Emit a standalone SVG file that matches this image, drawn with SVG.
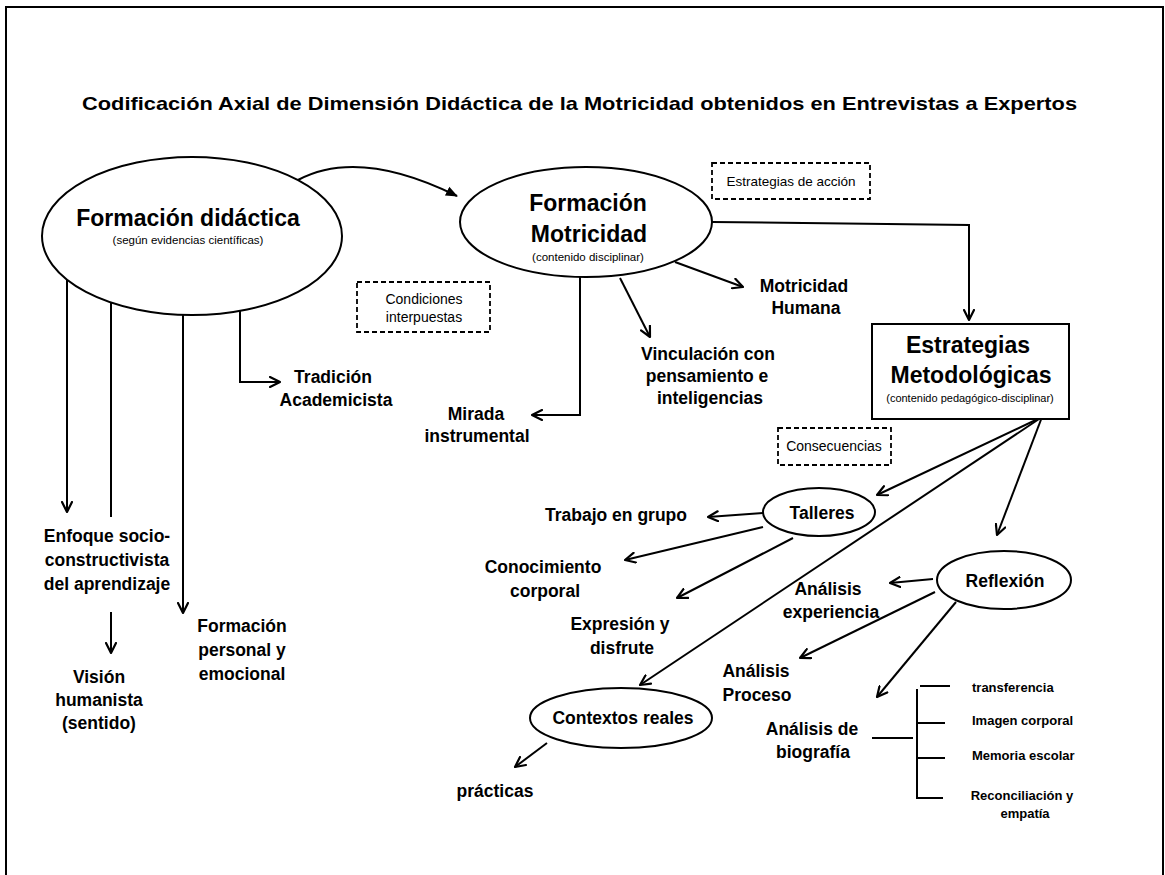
<svg xmlns="http://www.w3.org/2000/svg" width="1165" height="875" viewBox="0 0 1165 875">
<defs>
<marker id="arr" viewBox="0 0 12 12" refX="11" refY="6" markerWidth="12" markerHeight="12" markerUnits="userSpaceOnUse" orient="auto">
<path d="M1,1 L11,6 L1,11" fill="none" stroke="#000" stroke-width="2.2" stroke-linecap="round" stroke-linejoin="round"/>
</marker>
<marker id="arrf" viewBox="0 0 12 12" refX="11" refY="6" markerWidth="12" markerHeight="12" markerUnits="userSpaceOnUse" orient="auto">
<path d="M0,1 L12,6 L0,11 Z" fill="#000"/>
</marker>
</defs>
<style>
text{font-family:"Liberation Sans",Arial,sans-serif;fill:#000}
.t{font-size:19px;font-weight:bold}
.big{font-size:23px;font-weight:bold;text-anchor:middle}
.lbl{font-size:17.5px;font-weight:bold;text-anchor:middle}
.sub{font-size:11.5px;text-anchor:middle}
.note{font-size:14px;text-anchor:middle}
.sm{font-size:13px;font-weight:bold}
.shape{fill:#fff;stroke:#000;stroke-width:2}
.dash{fill:none;stroke:#000;stroke-width:1.8;stroke-dasharray:5,3}
.c{fill:none;stroke:#000;stroke-width:2}
.a{marker-end:url(#arr)}
</style>
<rect x="0" y="0" width="1165" height="875" fill="#fff"/>
<rect x="6" y="7" width="1157" height="890" fill="none" stroke="#000" stroke-width="2"/>
<text class="t" x="82" y="110" textLength="995" lengthAdjust="spacingAndGlyphs">Codificación Axial de Dimensión Didáctica de la Motricidad obtenidos en Entrevistas a Expertos</text>

<g id="connectors">
<path class="c" d="M298,180 C330,163 380,158 457,196" marker-end="url(#arrf)"/>
<path class="c a" d="M67,280 L67,512"/>
<path class="c" d="M111,302 L111,517"/>
<path class="c a" d="M111,612 L111,653"/>
<path class="c a" d="M183,315 L183,613"/>
<path class="c a" d="M240,311 L240,382 L280,382"/>
<path class="c a" d="M580,277 L580,415 L532,415"/>
<path class="c a" d="M620,278 L650,337"/>
<path class="c a" d="M675,262 L743,287"/>
<path class="c a" d="M712,222 L969,225 L969,320"/>
<path class="c a" d="M1042,417 L877,495"/>
<path class="c a" d="M1042,417 L640,685"/>
<path class="c a" d="M1042,417 L997,535"/>
<path class="c a" d="M763,513 L708,517"/>
<path class="c a" d="M763,527 L625,560"/>
<path class="c a" d="M793,538 L677,598"/>
<path class="c a" d="M933,579 L890,583"/>
<path class="c a" d="M935,592 L800,658"/>
<path class="c a" d="M956,602 L877,697"/>
<path class="c a" d="M547,743 L515,767"/>
<path class="c" d="M872,738 L913,738"/>
<path class="c" d="M917,689 L917,798 L943,798"/>
<path class="c" d="M920,686 L950,686"/>
<path class="c" d="M918,723 L945,723"/>
<path class="c" d="M918,758 L945,758"/>
</g>

<g id="formacion-didactica">
<ellipse class="shape" cx="192" cy="236" rx="150" ry="79"/>
<text class="big" x="188" y="226">Formación didáctica</text>
<text class="sub" x="188" y="244">(según evidencias científicas)</text>
</g>

<g id="formacion-motricidad">
<ellipse class="shape" cx="586" cy="222" rx="126" ry="55"/>
<text class="big" x="588" y="211">Formación</text>
<text class="big" x="589" y="242">Motricidad</text>
<text class="sub" x="588" y="261">(contenido disciplinar)</text>
</g>

<g id="estrategias-accion">
<rect class="dash" x="712" y="163" width="158" height="36"/>
<text class="note" x="791" y="186" style="font-size:13.5px">Estrategias de acción</text>
</g>

<g id="condiciones">
<rect class="dash" x="357" y="282" width="133" height="50"/>
<text class="note" x="424" y="304">Condiciones</text>
<text class="note" x="424" y="322">interpuestas</text>
</g>

<g id="estrategias-metodologicas">
<rect class="shape" x="872" y="324" width="197" height="95"/>
<text class="big" x="968" y="353">Estrategias</text>
<text class="big" x="971" y="383">Metodológicas</text>
<text class="sub" x="970" y="402" style="font-size:11px">(contenido pedagógico-disciplinar)</text>
</g>

<g id="consecuencias">
<rect class="dash" x="778" y="428" width="113" height="37"/>
<text class="note" x="834" y="451">Consecuencias</text>
</g>

<g id="tradicion"><text class="lbl" x="333" y="383">Tradición</text><text class="lbl" x="336" y="406">Academicista</text></g>
<g id="enfoque"><text class="lbl" x="107" y="542">Enfoque socio-</text><text class="lbl" x="107" y="566">constructivista</text><text class="lbl" x="107" y="590">del aprendizaje</text></g>
<g id="vision"><text class="lbl" x="99" y="683">Visión</text><text class="lbl" x="99" y="706">humanista</text><text class="lbl" x="99" y="729">(sentido)</text></g>
<g id="formacion-personal"><text class="lbl" x="242" y="632">Formación</text><text class="lbl" x="242" y="656">personal y</text><text class="lbl" x="242" y="680">emocional</text></g>
<g id="mirada"><text class="lbl" x="476" y="420">Mirada</text><text class="lbl" x="477" y="442">instrumental</text></g>
<g id="vinculacion"><text class="lbl" x="708" y="360">Vinculación con</text><text class="lbl" x="707" y="382">pensamiento e</text><text class="lbl" x="710" y="404">inteligencias</text></g>
<g id="motricidad-humana"><text class="lbl" x="804" y="292">Motricidad</text><text class="lbl" x="806" y="314">Humana</text></g>

<g id="talleres">
<ellipse class="shape" cx="819" cy="512" rx="56" ry="24"/>
<text class="lbl" x="822" y="519">Talleres</text>
</g>
<g id="trabajo"><text class="lbl" x="616" y="521">Trabajo en grupo</text></g>
<g id="conocimiento"><text class="lbl" x="543" y="573">Conocimiento</text><text class="lbl" x="545" y="597">corporal</text></g>
<g id="expresion"><text class="lbl" x="620" y="630">Expresión y</text><text class="lbl" x="622" y="654">disfrute</text></g>

<g id="reflexion">
<ellipse class="shape" cx="1004" cy="580" rx="67" ry="29"/>
<text class="lbl" x="1005" y="587">Reflexión</text>
</g>
<g id="analisis-experiencia"><text class="lbl" x="828" y="595">Análisis</text><text class="lbl" x="831" y="618">experiencia</text></g>
<g id="analisis-proceso"><text class="lbl" x="756" y="677">Análisis</text><text class="lbl" x="757" y="701">Proceso</text></g>
<g id="analisis-biografia"><text class="lbl" x="812" y="735">Análisis de</text><text class="lbl" x="813" y="758">biografía</text></g>

<g id="transferencia"><text class="sm" x="972" y="692">transferencia</text></g>
<g id="imagen"><text class="sm" x="972" y="725">Imagen corporal</text></g>
<g id="memoria"><text class="sm" x="972" y="760">Memoria escolar</text></g>
<g id="reconciliacion"><text class="sm" x="1022" y="800" text-anchor="middle">Reconciliación y</text><text class="sm" x="1025" y="818" text-anchor="middle">empatía</text></g>

<g id="contextos">
<ellipse class="shape" cx="621" cy="718" rx="91" ry="30"/>
<text class="lbl" x="623" y="724">Contextos reales</text>
</g>
<g id="practicas"><text class="lbl" x="495" y="797">prácticas</text></g>
</svg>
